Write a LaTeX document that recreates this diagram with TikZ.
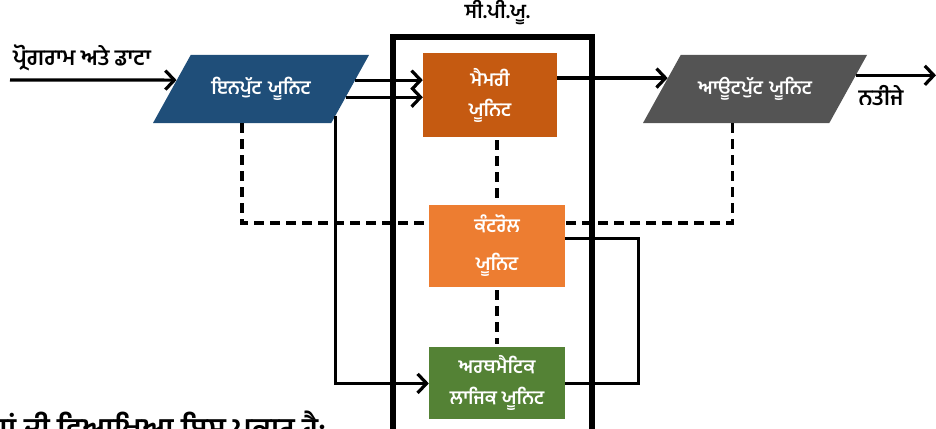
\documentclass[tikz,border=0pt]{standalone}
\usepackage{fontspec}
\newfontfamily\gurmukhi[Script=Gurmukhi]{Hind Jalandhar}
\usetikzlibrary{arrows.meta,positioning,shapes.geometric,calc}
\definecolor{inputblue}{HTML}{1F4E79}
\definecolor{memorybrown}{HTML}{C55A11}
\definecolor{controlorange}{HTML}{ED7D31}
\definecolor{alugreen}{HTML}{548235}
\definecolor{outputgrey}{HTML}{545454}

\begin{document}
\begin{tikzpicture}[
  x=1pt, y=-1pt,
  iobox/.style={trapezium, trapezium left angle=61, trapezium right angle=119, align=center, text height=14pt, text depth=4pt, inner ysep=25pt, text=white, font=\gurmukhi\bfseries\fontsize{19}{22}\selectfont},
  unit/.style={rectangle, text=white, align=center, inner sep=0pt, font=\gurmukhi\bfseries\fontsize{19}{22}\selectfont},
  caption/.style={text=black, inner sep=0pt, font=\gurmukhi\bfseries\fontsize{20}{24}\selectfont},
  cpubox/.style={rectangle, draw=black, line width=5.5pt, minimum width=199pt, minimum height=413pt},
  flowarrow/.style={-{Straight Barb[length=9pt,width=19pt]}, line width=3.2pt},
  link/.style={line width=3pt},
  ctrlline/.style={line width=3.4pt, dash pattern=on 10pt off 6pt}
]
  \path[use as bounding box, clip] (0,0) rectangle (936,428);

  % CPU frame
  \node[cpubox] (cpu) at (492.5,243.5) {};
  \node[caption, above=9pt of cpu.north, xshift=5pt] (cpulabel) {ਸੀ.ਪੀ.ਯੂ.};

  % Units
  \node[iobox, fill=inputblue, text width=100pt, inner xsep=20.3pt] (input) at (261,89) {ਇਨਪੁੱਟ ਯੂਨਿਟ};
  \node[unit, fill=memorybrown, minimum width=134pt, minimum height=84pt] (memory) at (490,95) {ਮੈਮਰੀ\\[8pt]ਯੂਨਿਟ};
  \node[unit, fill=controlorange, minimum width=136pt, minimum height=82pt] (control) at (497,246) {ਕੰਟਰੋਲ\\[16pt]ਯੂਨਿਟ};
  \node[unit, fill=alugreen, minimum width=136pt, minimum height=72pt, below=60pt of control] (alu) {ਅਰਥਮੈਟਿਕ\\[9pt]ਲਾਜਿਕ ਯੂਨਿਟ};
  \node[iobox, fill=outputgrey, text width=120pt, inner xsep=14.3pt] (output) at (755,89) {ਆਊਟਪੁੱਟ ਯੂਨਿਟ};

  % Outside texts
  \node[caption, font=\gurmukhi\bfseries\fontsize{22}{24}\selectfont] (progtext) at (82,58) {ਪ੍ਰੋਗਰਾਮ ਅਤੇ ਡਾਟਾ};
  \node[caption, font=\gurmukhi\bfseries\fontsize{22}{24}\selectfont] (resulttext) at (881,96) {ਨਤੀਜੇ};
  \node[caption, font=\gurmukhi\bfseries\fontsize{30}{32}\selectfont, anchor=base east] (bottomtext) at (327,439) {ਭਾਗਾਂ ਦੀ ਵਿਆਖਿਆ ਇਸ ਪ੍ਰਕਾਰ ਹੈ:};
  \coordinate (progstart) at (10,80);
  \coordinate (resultend) at (936,76);

  % Data flow
  \draw[flowarrow] (progstart) -- ($(input.top left corner)!0.37!(input.bottom left corner)$);
  \draw[flowarrow] ($(input.top right corner)!0.37!(input.bottom right corner)$) coordinate (in1) -- (in1 -| memory.west);
  \draw[flowarrow] ($(input.top right corner)!0.62!(input.bottom right corner)$) coordinate (in2) -- (in2 -| memory.west);
  \draw[flowarrow] ($(input.top right corner)!0.89!(input.bottom right corner)$) |- (alu.west);
  \draw[flowarrow] ($(output.top left corner)!0.34!(output.bottom left corner)$) coordinate (out1) (memory.east |- out1) -- (out1);
  \draw[flowarrow] ($(output.top right corner)!0.30!(output.bottom right corner)$) coordinate (out2) -- (out2 -| resultend);
  \draw[link] ($(control.north east)!0.41!(control.south east)$) -- ++(73,0) |- (alu.east);

  % Control signals
  \draw[ctrlline] ($(input.bottom left corner)!0.5!(input.bottom right corner)$) |- ($(control.north west)!0.22!(control.south west)$);
  \draw[ctrlline] ($(output.bottom left corner)!0.48!(output.bottom right corner)$) |- ($(control.north east)!0.22!(control.south east)$);
  \draw[ctrlline, shorten <=3pt, shorten >=3pt] (control.north |- memory.south) -- (control.north);
  \draw[ctrlline, shorten <=3pt, shorten >=3pt] (control.south) -- (alu.north);
\end{tikzpicture}
\end{document}
